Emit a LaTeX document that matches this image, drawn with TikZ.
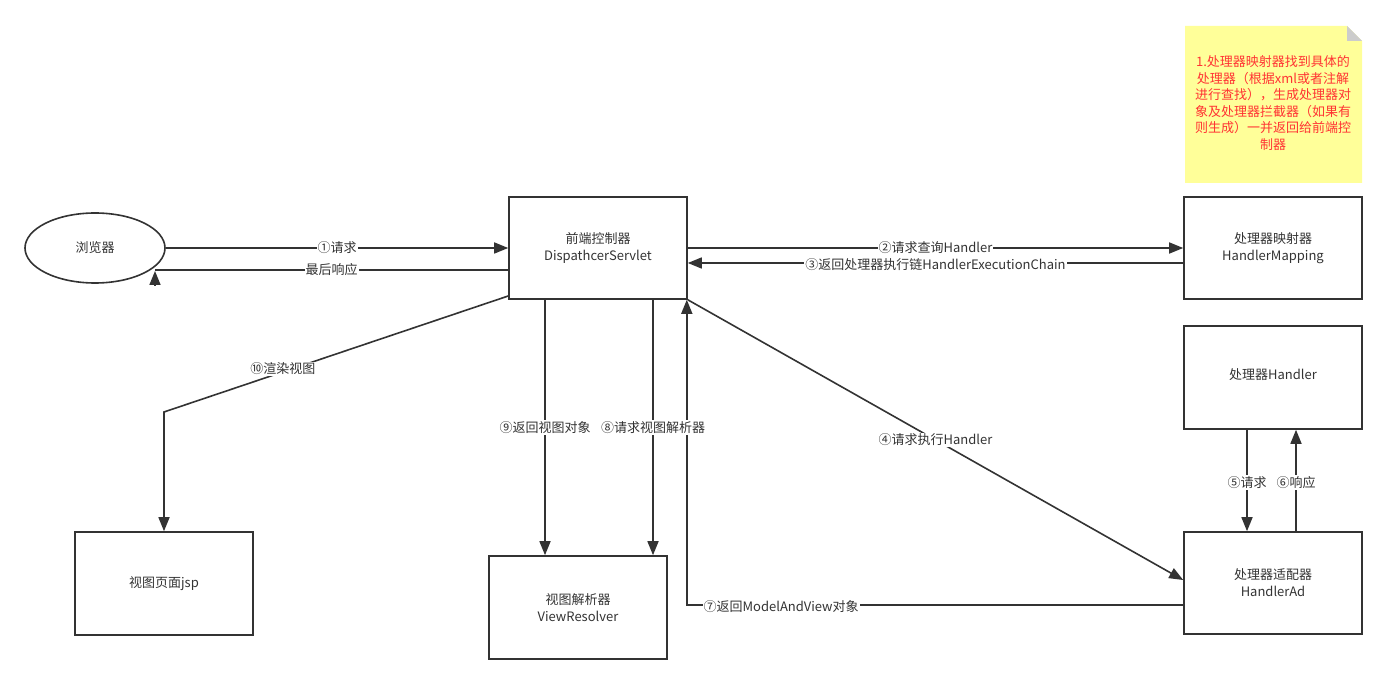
\documentclass[tikz,border=0pt]{standalone}
\usepackage{fontspec}
\setmainfont{Noto Sans CJK SC}
\usetikzlibrary{arrows.meta,shapes.geometric}
\definecolor{ln}{HTML}{333333}
\definecolor{notebg}{HTML}{FFFF99}
\definecolor{notetx}{HTML}{FF3333}
\definecolor{fold}{HTML}{CCCCCC}
\begin{document}
\begin{tikzpicture}[x=1pt,y=-1pt,
  font=\fontsize{13}{17}\selectfont,
  box/.style={draw=ln,line width=1.6pt,minimum width=178pt,minimum height=102pt,align=center,text=ln,inner sep=0pt},
  conn/.style={draw=ln,line width=1.6pt},
  arr/.style={conn,-{Triangle[length=14pt,width=11pt]}},
  lbl/.style={fill=white,text=ln,inner sep=1pt,font=\fontsize{13}{15}\selectfont}]
\useasboundingbox (0,0) rectangle (1387,684);
% nodes
\node[draw=ln,line width=1.6pt,ellipse,minimum width=140pt,minimum height=70pt,inner sep=0pt,text=ln] (br) at (95,248) {浏览器};
\node[box] (ds) at (598,248) {前端控制器\\DispathcerServlet};
\node[box] (hm) at (1273,248) {处理器映射器\\HandlerMapping};
\node[box,minimum height=103pt] (h) at (1273,377.5) {\raisebox{6pt}{处理器Handler}};
\node[box] (ha) at (1273,583) {处理器适配器\\HandlerAd};
\node[box,minimum height=103pt] (vr) at (578,607.5) {视图解析器\\ViewResolver};
\node[box,minimum height=103pt] (vj) at (164,583.5) {视图页面jsp};
% note
\fill[notebg] (1185,26) -- (1347,26) -- (1362,41) -- (1362,183) -- (1185,183) -- cycle;
\fill[fold] (1347,26) -- (1347,41) -- (1362,41) -- cycle;
\node[text=notetx,align=center,inner sep=0pt,font=\fontsize{13}{16.5}\selectfont] (note) at (1273,103) {1.处理器映射器找到具体的\\处理器（根据xml或者注解\\进行查找），生成处理器对\\象及处理器拦截器（如果有\\则生成）一并返回给前端控\\制器};
% connectors
\draw[arr] (br.east) -- node[lbl]{①请求} (ds.west);
\coordinate (r1) at (155,270);
\coordinate (r2) at (155,285);
\draw[conn] ([yshift=-22pt]ds.west) -- node[lbl]{最后响应} (r1);
\draw[arr] (r2) -- ([yshift=-1pt]r1);
\draw[arr] (ds.east) -- node[lbl]{②请求查询Handler} (hm.west);
\draw[arr] ([yshift=-15pt]hm.west) -- node[lbl,yshift=-2pt]{③返回处理器执行链HandlerExecutionChain} ([yshift=-15pt]ds.east);
\draw[arr] (ds.south east) -- node[lbl]{④请求执行Handler} ([yshift=3pt]ha.west);
\draw[arr] ([yshift=-22pt]ha.west) -| node[lbl,pos=0.405,yshift=-2pt]{⑦返回ModelAndView对象} ([xshift=-1pt]ds.south east);
\draw[arr] ([xshift=55pt]ds.south) -- node[lbl]{⑧请求视图解析器} ([xshift=55pt]ds.south |- vr.north);
\draw[arr] ([xshift=-53pt]ds.south) -- node[lbl]{⑨返回视图对象} ([xshift=-53pt]ds.south |- vr.north);
\coordinate (bend) at (164,412);
\draw[arr] ([yshift=-48pt]ds.west) -- node[lbl,pos=0.655,yshift=3pt]{⑩渲染视图} (bend) -- (vj.north);
\draw[arr] ([xshift=-26pt]h.south) -- node[lbl,pos=0.52]{⑤请求} ([xshift=-26pt]ha.north);
\draw[arr] ([xshift=23pt]ha.north) -- node[lbl,pos=0.48]{⑥响应} ([xshift=23pt]h.south);
\end{tikzpicture}
\end{document}
